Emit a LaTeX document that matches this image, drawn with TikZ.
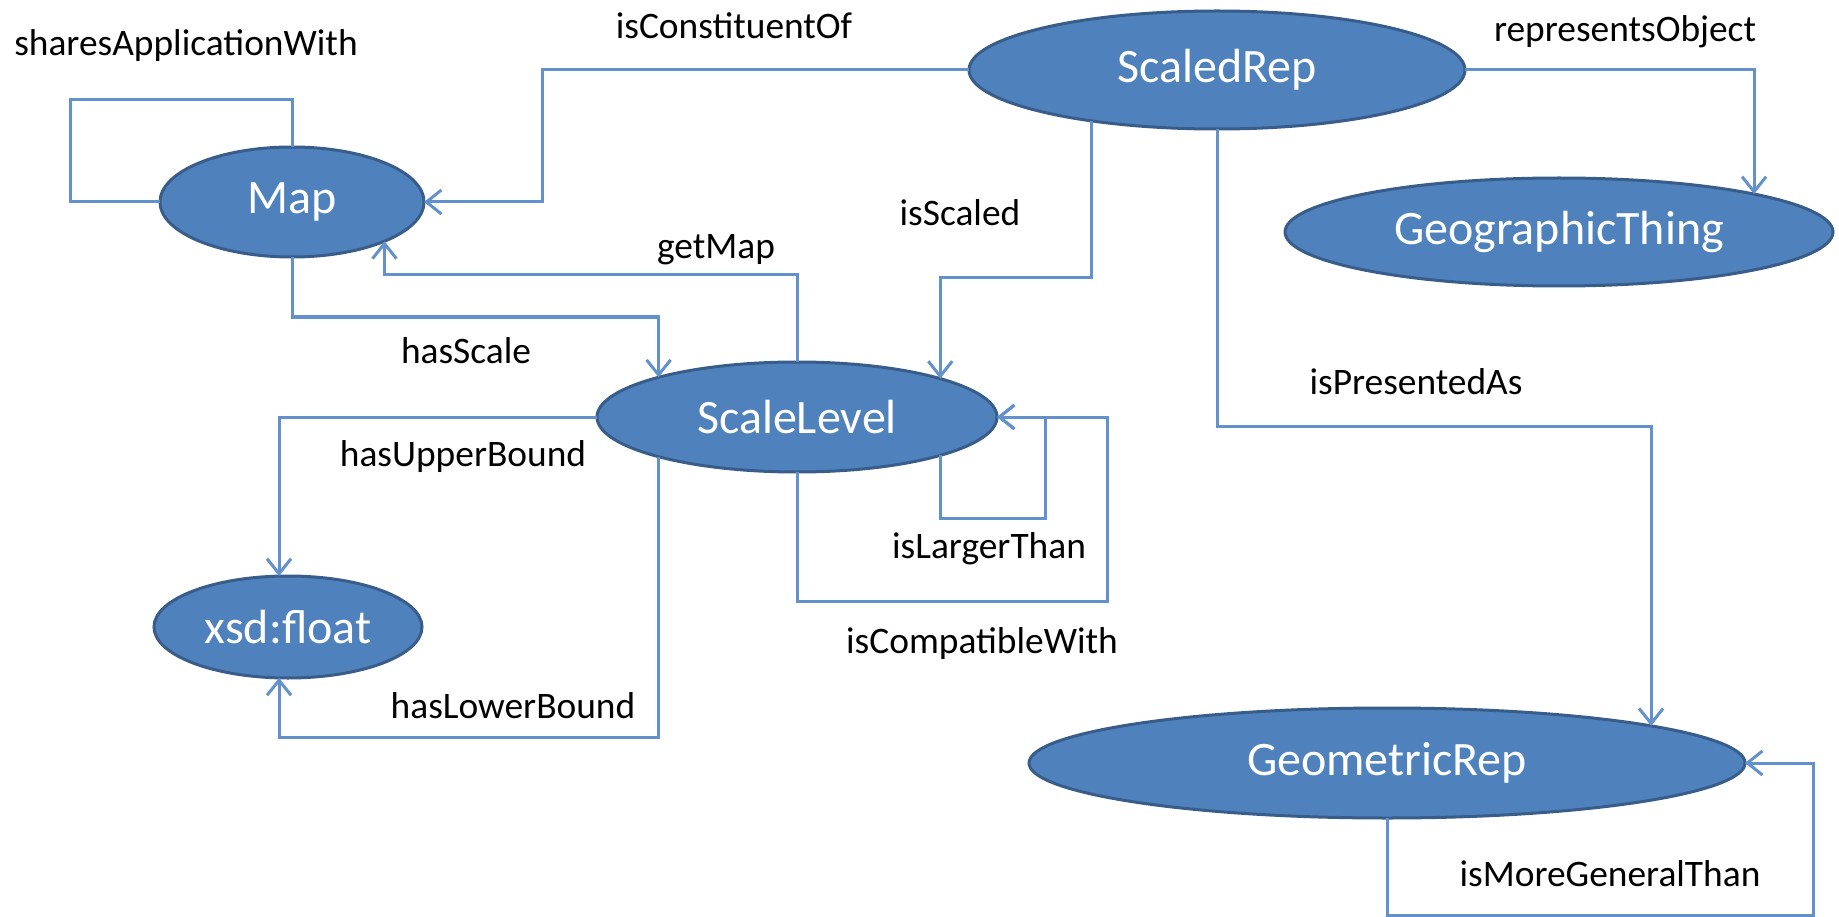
\documentclass[tikz,border=0pt]{standalone}
\usepackage{fontspec}
\setmainfont{Carlito}
\usetikzlibrary{shapes.geometric,arrows.meta}
\definecolor{nodefill}{HTML}{4F81BD}
\definecolor{nodeborder}{HTML}{385D8A}
\definecolor{connblue}{HTML}{6391CE}
\begin{document}
\begin{tikzpicture}[x=1pt,y=-1pt,
  cls/.style={ellipse,fill=nodefill,draw=nodeborder,line width=3pt,text=white,
    inner sep=0pt,outer sep=0pt,font=\fontsize{48}{58}\selectfont},
  lbl/.style={text=black,inner sep=0pt,font=\fontsize{37.4}{45}\selectfont},
  conn/.style={draw=connblue,line width=3pt},
  arr/.style={conn,-{Straight Barb[length=15pt,width=24pt]}}]
\useasboundingbox (0,0) rectangle (1839,917);
\fill[white] (0,0) rectangle (1839,917);

% nodes
\node[cls,minimum width=496pt,minimum height=118pt] (ScaledRep) at (1217,70) {ScaledRep};
\node[cls,minimum width=264pt,minimum height=110pt] (Map) at (292,202) {Map};
\node[cls,minimum width=548pt,minimum height=108pt] (GeographicThing) at (1559,232) {GeographicThing};
\node[cls,minimum width=400pt,minimum height=110pt] (ScaleLevel) at (797,417) {ScaleLevel};
\node[cls,minimum width=268pt,minimum height=102pt] (xsd) at (288,627) {xsd:float};
\node[cls,minimum width=716pt,minimum height=110pt] (GeometricRep) at (1387,763) {GeometricRep};

% connectors
\draw[conn] (Map.north) -- (Map.north |- 0,100) -| (70,150) |- (Map.west);
\draw[arr] (ScaledRep.west) -| (542,150) |- (Map.east);
\draw[arr] (ScaledRep.east) -| (GeographicThing.11.25);
\draw[arr] (ScaledRep.202.9) -- (ScaledRep.202.9 |- 0,278) -| (ScaleLevel.15.7);
\draw[arr] (ScaledRep.south) -- (ScaledRep.south |- 0,426) -| (GeometricRep.8.96);
\draw[arr] (ScaleLevel.north) -- (ScaleLevel.north |- 0,275) -| (Map.-23.7);
\draw[arr] (Map.south) -- (Map.south |- 0,317) -| (ScaleLevel.164.3);
\draw[arr] (ScaleLevel.west) -| (xsd.100);
\draw[arr] (ScaleLevel.-164.3) -- (ScaleLevel.-164.3 |- 0,737) -| (xsd.-100);
\draw[arr] (ScaleLevel.-15.7) -- (ScaleLevel.-15.7 |- 0,518) -| (1045,470) |- (ScaleLevel.east);
\draw[arr] (ScaleLevel.south) -- (ScaleLevel.south |- 0,601) -| (1107,500) |- (ScaleLevel.east);
\draw[arr] (GeometricRep.south) -- (GeometricRep.south |- 0,915) -| (1813,840) |- (GeometricRep.east);

% labels
\node[lbl] (l1) at (186,46) {sharesApplicationWith};
\node[lbl] (l2) at (734,26) {isConstituentOf};
\node[lbl] (l3) at (1625,32) {representsObject};
\node[lbl] (l4) at (960,213) {isScaled};
\node[lbl] (l5) at (716,250) {getMap};
\node[lbl] (l6) at (466,351) {hasScale};
\node[lbl] (l7) at (1416,382) {isPresentedAs};
\node[lbl] (l8) at (463,457) {hasUpperBound};
\node[lbl] (l9) at (989,549) {isLargerThan};
\node[lbl] (l10) at (982,644) {isCompatibleWith};
\node[lbl] (l11) at (513,706) {hasLowerBound};
\node[lbl] (l12) at (1610,874) {isMoreGeneralThan};
\end{tikzpicture}
\end{document}
